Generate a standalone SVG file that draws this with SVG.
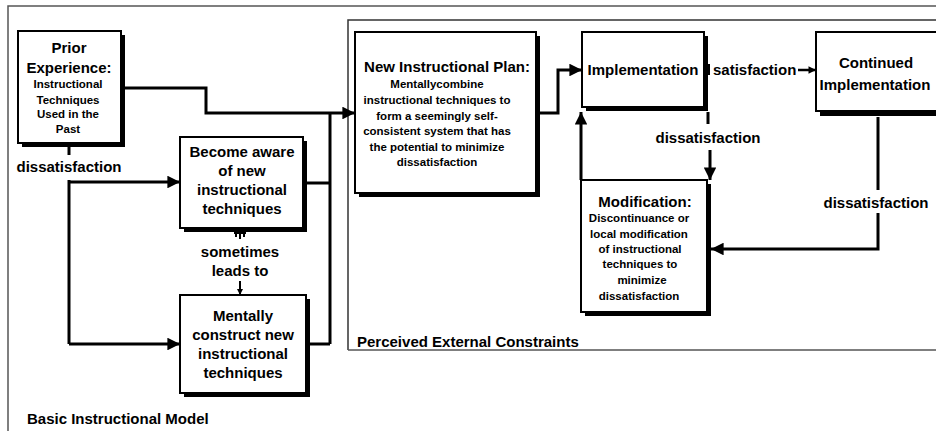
<svg xmlns="http://www.w3.org/2000/svg" width="936" height="431" viewBox="0 0 936 431">
<style>
text{font-family:"Liberation Sans",Arial,sans-serif;font-weight:bold;fill:#000;text-anchor:middle}
.t{font-size:15px}
.b{font-size:11.5px}
.box{fill:#fff;stroke:#000;stroke-width:2}
.sh{fill:#000}
.ln{fill:none;stroke:#000;stroke-width:3}
.frame{fill:none;stroke:#555;stroke-width:1.5}
</style>
<defs>
<marker id="ah" viewBox="0 0 10 10" refX="10" refY="5" markerWidth="6.5" markerHeight="4.2" markerUnits="strokeWidth" orient="auto"><path d="M0,0L10,5L0,10z" fill="#000"/></marker>
<marker id="as" viewBox="0 0 10 10" refX="10" refY="5" markerWidth="5" markerHeight="3" markerUnits="strokeWidth" orient="auto"><path d="M0,0L10,5L0,10z" fill="#000"/></marker>
</defs>
<rect width="936" height="431" fill="#fff"/>
<g id="frames">
<path class="frame" d="M8,440V6H940"/>
<path d="M348,350V20H940" fill="none" stroke="#333" stroke-width="1.5"/>
<path d="M348,350H940" fill="none" stroke="#555" stroke-width="1.5"/>
<text class="t" x="27" y="424" style="text-anchor:start">Basic Instructional Model</text>
<text class="t" x="357" y="347" style="text-anchor:start">Perceived External Constraints</text>
</g>
<g id="connectors">
<path class="ln" d="M125,88H206V113H330"/>
<path class="ln" d="M330,113H355" marker-end="url(#ah)"/>
<path class="ln" d="M330,113V344"/>
<path class="ln" d="M307,183H330"/>
<path class="ln" d="M310,344H330"/>
<path class="ln" d="M69,147V155"/>
<path class="ln" d="M69,180V344"/>
<path class="ln" d="M69,182H180" marker-end="url(#ah)"/>
<path class="ln" d="M69,344H180" marker-end="url(#ah)"/>
<path d="M234,233H246M236,232V237M240,232V239M244,232V237" fill="none" stroke="#000" stroke-width="2"/>
<path d="M240,281V295" fill="none" stroke="#000" stroke-width="2" marker-end="url(#as)"/>
<path class="ln" d="M540,113H558V70H582" marker-end="url(#ah)"/>
<path d="M709,64V75" stroke="#000" stroke-width="2"/>
<path d="M798,70H816" fill="none" stroke="#000" stroke-width="2.5" marker-end="url(#as)"/>
<path class="ln" d="M708,112V124"/>
<path class="ln" d="M710,150V180" marker-end="url(#ah)"/>
<path class="ln" d="M581,180V112" marker-end="url(#ah)"/>
<path class="ln" d="M878,117V190"/>
<path class="ln" d="M878,213V249H711" marker-end="url(#ah)"/>
<text class="t" x="69" y="172">dissatisfaction</text>
<text class="t" x="240" y="257">sometimes</text>
<text class="t" x="240" y="276">leads to</text>
<text class="t" x="713" y="75" style="text-anchor:start">satisfaction</text>
<text class="t" x="708" y="143">dissatisfaction</text>
<text class="t" x="876" y="208">dissatisfaction</text>
</g>
<g id="prior">
<rect class="sh" x="22" y="35" width="103" height="112"/>
<rect class="box" x="18" y="31" width="103" height="112"/>
<text class="t" x="69" y="53">Prior</text>
<text class="t" x="69" y="73">Experience:</text>
<text class="b" x="68" y="88">Instructional</text>
<text class="b" x="68" y="104">Techniques</text>
<text class="b" x="68" y="118">Used in the</text>
<text class="b" x="68" y="133">Past</text>
</g>
<g id="aware">
<rect class="sh" x="184" y="141" width="123" height="91"/>
<rect class="box" x="180" y="137" width="123" height="91"/>
<text class="t" x="242" y="157">Become aware</text>
<text class="t" x="242" y="176">of new</text>
<text class="t" x="242" y="195">instructional</text>
<text class="t" x="242" y="214">techniques</text>
</g>
<g id="construct">
<rect class="sh" x="184" y="299" width="126" height="98"/>
<rect class="box" x="180" y="295" width="126" height="98"/>
<text class="t" x="243" y="321">Mentally</text>
<text class="t" x="243" y="340">construct new</text>
<text class="t" x="243" y="359">instructional</text>
<text class="t" x="243" y="378">techniques</text>
</g>
<g id="plan">
<rect class="sh" x="359" y="36" width="181" height="161"/>
<rect class="box" x="355" y="32" width="181" height="161"/>
<text class="t" x="447" y="72">New Instructional Plan:</text>
<text class="b" x="437" y="88">Mentallycombine</text>
<text class="b" x="437" y="104">instructional techniques to</text>
<text class="b" x="437" y="120">form a seemingly self-</text>
<text class="b" x="437" y="135">consistent system that has</text>
<text class="b" x="437" y="151">the potential to minimize</text>
<text class="b" x="437" y="166">dissatisfaction</text>
</g>
<g id="implementation">
<rect class="sh" x="586" y="36" width="122" height="75"/>
<rect class="box" x="582" y="32" width="122" height="75"/>
<text class="t" x="643" y="75">Implementation</text>
</g>
<g id="continued">
<rect class="sh" x="820" y="36" width="130" height="80"/>
<rect class="box" x="816" y="32" width="130" height="79"/>
<text class="t" x="876" y="68">Continued</text>
<text class="t" x="875" y="90">Implementation</text>
</g>
<g id="modification">
<rect class="sh" x="585" y="184" width="126" height="132"/>
<rect class="box" x="581" y="180" width="126" height="132"/>
<text class="t" x="645" y="207">Modification:</text>
<text class="b" x="639" y="222">Discontinuance or</text>
<text class="b" x="639" y="238">local modification</text>
<text class="b" x="640" y="253">of instructional</text>
<text class="b" x="640" y="268">techniques to</text>
<text class="b" x="642" y="284">minimize</text>
<text class="b" x="639" y="300">dissatisfaction</text>
</g>
</svg>
